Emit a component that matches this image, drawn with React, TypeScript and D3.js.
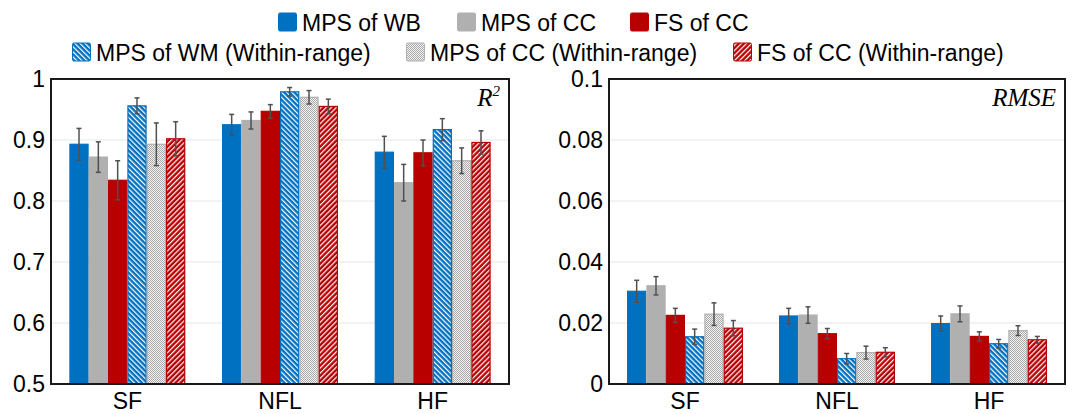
import React from "react";
import * as d3 from "d3";

const categories = ["SF", "NFL", "HF"];
const seriesNames = [
  "MPS of WB",
  "MPS of CC",
  "FS of CC",
  "MPS of WM (Within-range)",
  "MPS of CC (Within-range)",
  "FS of CC (Within-range)",
];

// R² means [series][category]
const r2Mean = [
  [0.893, 0.925, 0.88],
  [0.872, 0.932, 0.83],
  [0.834, 0.947, 0.879],
  [0.956, 0.979, 0.917],
  [0.893, 0.97, 0.866],
  [0.902, 0.955, 0.896],
];
const r2Err = [
  [0.026, 0.017, 0.026],
  [0.025, 0.014, 0.03],
  [0.032, 0.011, 0.021],
  [0.013, 0.007, 0.018],
  [0.035, 0.011, 0.021],
  [0.028, 0.012, 0.019],
];
const rmseMean = [
  [0.0304, 0.0223, 0.0198],
  [0.0322, 0.0226, 0.023],
  [0.0225, 0.0165, 0.0156],
  [0.0155, 0.0083, 0.0132],
  [0.0229, 0.0103, 0.0175],
  [0.0183, 0.0104, 0.0145],
];
const rmseErr = [
  [0.0036, 0.0025, 0.0025],
  [0.003, 0.0027, 0.0026],
  [0.0023, 0.0017, 0.0015],
  [0.0025, 0.0017, 0.0014],
  [0.0037, 0.0021, 0.0016],
  [0.0025, 0.0015, 0.0011],
];
const r2Ticks = [0.5, 0.6, 0.7, 0.8, 0.9, 1];
const rmseTicks = [0, 0.02, 0.04, 0.06, 0.08, 0.1];

const BLUE = "#0070C0";
const GRAY = "#B0B0B0";
const RED = "#B80000";
const seriesStroke = [BLUE, GRAY, RED, BLUE, GRAY, RED];
const seriesFill = [BLUE, GRAY, RED, "url(#hatchBlue)", "url(#checkGray)", "url(#hatchRed)"];

const FONT = "'Liberation Sans', Arial, sans-serif";
const SERIF = "'Liberation Serif', 'Times New Roman', serif";

type PanelProps = {
  x0: number;
  x1: number;
  top: number;
  bottom: number;
  domain: [number, number];
  ticks: number[];
  fmt: (v: number) => string;
  means: number[][];
  errs: number[][];
  title: React.ReactNode;
};

function Panel({ x0, x1, top, bottom, domain, ticks, fmt, means, errs, title }: PanelProps) {
  const y = d3.scaleLinear().domain(domain).range([bottom, top]);
  const xb = d3.scaleBand<string>().domain(categories).range([x0, x1]).padding(0);
  const groupW = 116;
  const inner = d3
    .scaleBand<number>()
    .domain(d3.range(seriesNames.length))
    .range([0, groupW])
    .padding(0);
  const bw = inner.bandwidth();
  return (
    <g>
      {ticks.slice(1, -1).map((t) => (
        <line key={"g" + t} x1={x0} x2={x1} y1={y(t)} y2={y(t)} stroke="#E6E6E6" strokeWidth={1} />
      ))}
      {categories.map((c, ci) => {
        const gx = (xb(c) as number) + xb.bandwidth() / 2 - groupW / 2;
        return (
          <g key={c}>
            {seriesNames.map((s, si) => {
              const v = means[si][ci];
              const e = errs[si][ci];
              const bx = gx + (inner(si) as number);
              const cx = bx + bw / 2;
              return (
                <g key={s}>
                  <rect
                    x={bx + 0.6}
                    y={y(v)}
                    width={bw - 1.2}
                    height={bottom - y(v)}
                    fill={seriesFill[si]}
                    stroke={seriesStroke[si]}
                    strokeWidth={1.2}
                  />
                  <line x1={cx} x2={cx} y1={y(v + e)} y2={y(v - e)} stroke="#505050" strokeWidth={1.5} />
                  <line x1={cx - 2.5} x2={cx + 2.5} y1={y(v + e)} y2={y(v + e)} stroke="#505050" strokeWidth={1.5} />
                  <line x1={cx - 2.5} x2={cx + 2.5} y1={y(v - e)} y2={y(v - e)} stroke="#505050" strokeWidth={1.5} />
                </g>
              );
            })}
            <text
              x={(xb(c) as number) + xb.bandwidth() / 2}
              y={409}
              textAnchor="middle"
              fontSize={23}
              fontFamily={FONT}
              fill="#000"
            >
              {c}
            </text>
          </g>
        );
      })}
      {ticks.map((t) => (
        <text
          key={"t" + t}
          x={x0 - 6}
          y={y(t)}
          dy="0.36em"
          textAnchor="end"
          fontSize={23}
          fontFamily={FONT}
          fill="#000"
        >
          {fmt(t)}
        </text>
      ))}
      <rect x={x0} y={top} width={x1 - x0} height={bottom - top} fill="none" stroke="#1a1a1a" strokeWidth={2} />
      <text x={x1 - 9} y={106} textAnchor="end" fontSize={25} fontFamily={SERIF} fontStyle="italic" fill="#000">
        {title}
      </text>
    </g>
  );
}

const legendRow1 = [
  { si: 0, x: 278 },
  { si: 1, x: 457 },
  { si: 2, x: 630 },
];
const legendRow2 = [
  { si: 3, x: 72 },
  { si: 4, x: 406 },
  { si: 5, x: 733 },
];

export default function App() {
  return (
    <svg
      width={1073}
      height={414}
      style={{ position: "absolute", left: 0, top: 0, background: "#fff" }}
      xmlns="http://www.w3.org/2000/svg"
    >
      <defs>
        <pattern id="hatchBlue" patternUnits="userSpaceOnUse" width={3.6} height={3.6} patternTransform="rotate(-45)">
          <rect width={3.6} height={3.6} fill={BLUE} />
          <rect width={1.2} height={3.6} fill="#fff" />
        </pattern>
        <pattern id="hatchRed" patternUnits="userSpaceOnUse" width={3.6} height={3.6} patternTransform="rotate(45)">
          <rect width={3.6} height={3.6} fill={RED} />
          <rect width={1.2} height={3.6} fill="#fff" />
        </pattern>
        <pattern id="checkGray" patternUnits="userSpaceOnUse" width={2} height={2}>
          <rect width={2} height={2} fill="#F4F4F4" />
          <rect width={1} height={1} fill="#A8A8A8" />
          <rect x={1} y={1} width={1} height={1} fill="#A8A8A8" />
        </pattern>
      </defs>
      {[...legendRow1.map((d) => ({ ...d, yb: 30.5 })), ...legendRow2.map((d) => ({ ...d, yb: 60.5 }))].map((d) => (
        <g key={d.si}>
          <rect
            x={d.x + 0.5}
            y={d.yb - 17.5}
            width={18}
            height={18}
            rx={1.5}
            fill={seriesFill[d.si]}
            stroke={seriesStroke[d.si]}
            strokeWidth={1}
          />
          <text x={d.x + 24} y={d.yb} fontSize={23} fontFamily={FONT} fill="#000">
            {seriesNames[d.si]}
          </text>
        </g>
      ))}
      <Panel
        x0={51}
        x1={509}
        top={79}
        bottom={384}
        domain={[0.5, 1]}
        ticks={r2Ticks}
        fmt={(v) => (v === 1 ? "1" : d3.format(".1f")(v))}
        means={r2Mean}
        errs={r2Err}
        title={
          <>
            R<tspan fontSize={15} dy={-10}>2</tspan>
          </>
        }
      />
      <Panel
        x0={609}
        x1={1065}
        top={79}
        bottom={384}
        domain={[0, 0.1]}
        ticks={rmseTicks}
        fmt={(v) => (v === 0 ? "0" : v === 0.1 ? "0.1" : d3.format(".2f")(v))}
        means={rmseMean}
        errs={rmseErr}
        title="RMSE"
      />
    </svg>
  );
}
